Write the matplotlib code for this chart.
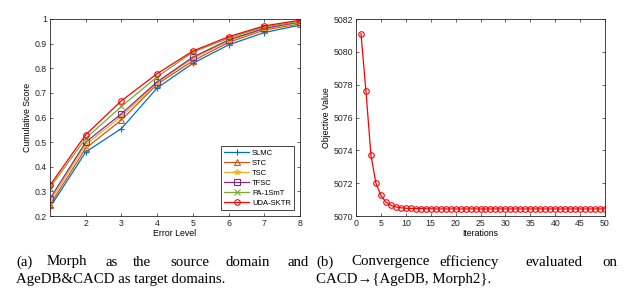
import matplotlib
matplotlib.use("Agg")
from matplotlib import pyplot as plt
import numpy as np

plt.rcParams['font.family'] = ['Liberation Sans', 'DejaVu Sans']

# (a) cumulative score vs error level
error_level = [1, 2, 3, 4, 5, 6, 7, 8]
methods = ["SLMC", "STC", "TSC", "TFSC", "PA-1SmT", "UDA-SKTR"]
scores = {
    "SLMC":     [0.235, 0.460, 0.555, 0.720, 0.820, 0.895, 0.945, 0.975],
    "STC":      [0.245, 0.475, 0.590, 0.735, 0.830, 0.905, 0.955, 0.980],
    "TSC":      [0.258, 0.490, 0.605, 0.740, 0.840, 0.910, 0.960, 0.985],
    "TFSC":     [0.270, 0.500, 0.615, 0.745, 0.845, 0.915, 0.962, 0.988],
    "PA-1SmT":  [0.315, 0.515, 0.645, 0.765, 0.865, 0.922, 0.968, 0.990],
    "UDA-SKTR": [0.325, 0.530, 0.668, 0.778, 0.870, 0.928, 0.972, 0.995],
}
colors = ["#0072BD", "#D95319", "#EDB120", "#7E2F8E", "#77AC30", "#FF0000"]
markers = ["+", "^", "*", "s", "x", "o"]

# (b) objective value vs iterations
iterations = list(range(1, 51))
objective = [5081.1, 5077.6, 5073.7, 5072.0, 5071.25, 5070.85, 5070.65,
             5070.55, 5070.5, 5070.47, 5070.46, 5070.45, 5070.45, 5070.44,
             5070.44] + [5070.43] * 35

fig = plt.figure(figsize=(6.24, 2.99), dpi=100)

ax1 = fig.add_axes([50/624, 1 - 216/299, 250/624, 197/299])
for m, c, mk in zip(methods, colors, markers):
    ax1.plot(error_level, scores[m], color=c, marker=mk, markersize=4,
             markerfacecolor='none', markeredgewidth=0.8, linewidth=0.9, label=m)
ax1.set_xlim(1, 8)
ax1.set_ylim(0.2, 1.0)
ax1.set_xticks([2, 3, 4, 5, 6, 7, 8])
ax1.set_yticks(np.arange(0.2, 1.01, 0.1))
ax1.set_yticklabels(["0.2", "0.3", "0.4", "0.5", "0.6", "0.7", "0.8", "0.9", "1"])
ax1.set_xlabel("Error Level", fontsize=6.3, labelpad=1)
ax1.set_ylabel("Cumulative Score", fontsize=6.3, labelpad=2)
leg = ax1.legend(loc='lower right', fontsize=5.5, fancybox=False, framealpha=1,
                 edgecolor='#262626', borderaxespad=0.8, handlelength=3.2,
                 labelspacing=0.35, borderpad=0.4, handletextpad=0.4)
leg.get_frame().set_linewidth(0.6)

ax2 = fig.add_axes([356/624, 1 - 216/299, 249/624, 197/299])
ax2.plot(iterations, objective, color="#FF0000", marker='o', markersize=4,
         markerfacecolor='none', markeredgewidth=0.8, linewidth=0.9)
ax2.set_xlim(0, 50)
ax2.set_ylim(5070, 5082)
ax2.set_xticks(range(0, 51, 5))
ax2.set_yticks(range(5070, 5083, 2))
ax2.set_xlabel("Iterations", fontsize=6.3, labelpad=1)
ax2.set_ylabel("Objective Value", fontsize=6.3, labelpad=2)

for ax in (ax1, ax2):
    ax.tick_params(direction='in', length=2.5, width=0.5, labelsize=6.3, pad=2,
                   top=True, right=True, colors='#262626')
    for s in ax.spines.values():
        s.set_linewidth(0.6)
        s.set_color('#262626')

# captions (justified first line, words placed one by one)
serif = dict(family=['Liberation Serif', 'DejaVu Serif'], fontsize=10.7, va='center')
line1 = [("(a)", 16), ("Morph", 47), ("as", 105), ("the", 133), ("source", 170),
         ("domain", 226), ("and", 288), ("(b)", 316), ("Convergence", 351),
         ("efficiency", 439), ("evaluated", 525), ("on", 602)]
for word, x in line1:
    fig.text(x/624, 1 - 262/299, word, **serif)
fig.text(16/624, 1 - 280/299, "AgeDB&CACD as target domains.", **serif)
fig.text(316/624, 1 - 280/299, "CACD\u2192{AgeDB, Morph2}.", **serif)

fig.savefig("out.png", dpi=100)
